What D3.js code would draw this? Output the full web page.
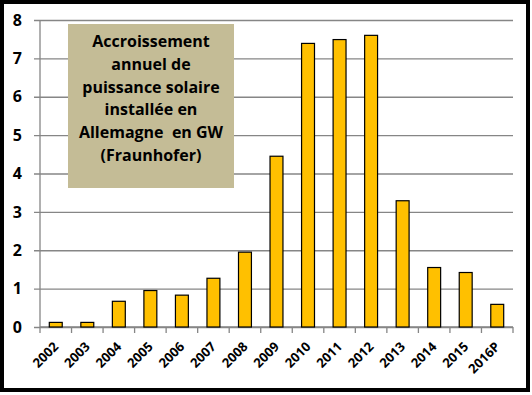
<!DOCTYPE html>
<html>
<head>
<meta charset="utf-8">
<script src="https://cdn.jsdelivr.net/npm/d3@7"></script>
<style>
  body { margin: 0; background: #fff; }
  svg { display: block; }
  text { font-family: "Open Sans", "DejaVu Sans", sans-serif; font-weight: bold; fill: #000; white-space: pre; }
</style>
</head>
<body>
<div class="chart"></div>
<script>
//! DATA
const YEARS = ['2002', '2003', '2004', '2005', '2006', '2007', '2008', '2009',
  '2010', '2011', '2012', '2013', '2014', '2015', '2016P'];
const GW = [0.12, 0.12, 0.67, 0.95, 0.83, 1.27, 1.95, 4.45,
  7.39, 7.49, 7.6, 3.29, 1.55, 1.42, 0.59];
const Y_TICKS = [0, 1, 2, 3, 4, 5, 6, 7, 8];
const TITLE_LINES = ['Accroissement', 'annuel de', 'puissance solaire',
  'installée en', 'Allemagne  en GW', '(Fraunhofer)'];

//! CONSTS
const WIDTH = 532, HEIGHT = 395;
const LEFT = 40, RIGHT = 513, TOP = 20, BOTTOM = 327;

const svg = d3.select('.chart')
  .append('svg')
  .attr('width', WIDTH)
  .attr('height', HEIGHT);

// outer frame
svg.append('rect')
  .attr('x', 2).attr('y', 2)
  .attr('width', 526).attr('height', 388)
  .attr('fill', 'none')
  .attr('stroke', '#000')
  .attr('stroke-width', 4);

const x = d3.scaleBand().domain(YEARS).range([LEFT, RIGHT]).paddingInner(0.59).paddingOuter(0.295);
const xb = d3.scaleBand().domain(YEARS).range([LEFT, RIGHT]);
const y = d3.scaleLinear().domain([0, 8]).range([BOTTOM, TOP]);

// gridlines + y labels
const yAxis = d3.axisLeft(y)
  .tickValues(Y_TICKS)
  .tickSize(-(RIGHT - LEFT))
  .tickPadding(0)
  .tickFormat(d3.format('d'));

const gy = svg.append('g')
  .attr('transform', `translate(${LEFT},0)`)
  .call(yAxis);
gy.select('.domain').remove();
gy.selectAll('.tick line')
  .attr('x1', -6)
  .attr('stroke', '#868686')
  .attr('stroke-width', 1.3);
gy.selectAll('.tick text')
  .attr('x', -18)
  .attr('font-size', 16)
  .style('font-family', '"Open Sans", sans-serif')
  .style('font-weight', 'bold');

svg.append('line')
  .attr('x1', LEFT).attr('x2', LEFT)
  .attr('y1', TOP).attr('y2', BOTTOM)
  .attr('stroke', '#868686')
  .attr('stroke-width', 1.3);

// x axis with boundary ticks
const gx = svg.append('g').attr('transform', `translate(0,${BOTTOM})`);
gx.append('line')
  .attr('x1', LEFT).attr('x2', RIGHT)
  .attr('stroke', '#868686')
  .attr('stroke-width', 1.3);
gx.selectAll('line.tk')
  .data(YEARS.concat(['end']))
  .enter()
  .append('line')
  .attr('class', 'tk')
  .attr('x1', d => d === 'end' ? RIGHT : xb(d))
  .attr('x2', d => d === 'end' ? RIGHT : xb(d))
  .attr('y2', 6)
  .attr('stroke', '#868686')
  .attr('stroke-width', 1.3);
gx.selectAll('g.lbl')
  .data(YEARS)
  .enter()
  .append('g')
  .attr('class', 'lbl')
  .attr('transform', d => `translate(${xb(d) + xb.bandwidth() / 2 - 3},${14})`)
  .append('text')
  .attr('font-size', 13)
  .attr('text-anchor', 'end')
  .attr('transform', 'rotate(-45)')
  .attr('dy', '0.7em')
  .text(d => d);

// bars
svg.append('g')
  .selectAll('rect')
  .data(GW)
  .enter()
  .append('rect')
  .attr('x', (d, i) => x(YEARS[i]))
  .attr('y', d => y(d))
  .attr('width', x.bandwidth())
  .attr('height', d => y(0) - y(d))
  .attr('fill', '#FFC000')
  .attr('stroke', '#000')
  .attr('stroke-width', 1.2);

// title box
const box = svg.append('g');
box.append('rect')
  .attr('x', 68).attr('y', 24)
  .attr('width', 166).attr('height', 164)
  .attr('fill', '#C4BC96');
box.selectAll('text')
  .data(TITLE_LINES)
  .enter()
  .append('text')
  .attr('x', 151)
  .attr('y', (d, i) => 47 + i * 22.8)
  .attr('text-anchor', 'middle')
  .attr('font-size', 16)
  .text(d => d);
</script>
</body>
</html>
